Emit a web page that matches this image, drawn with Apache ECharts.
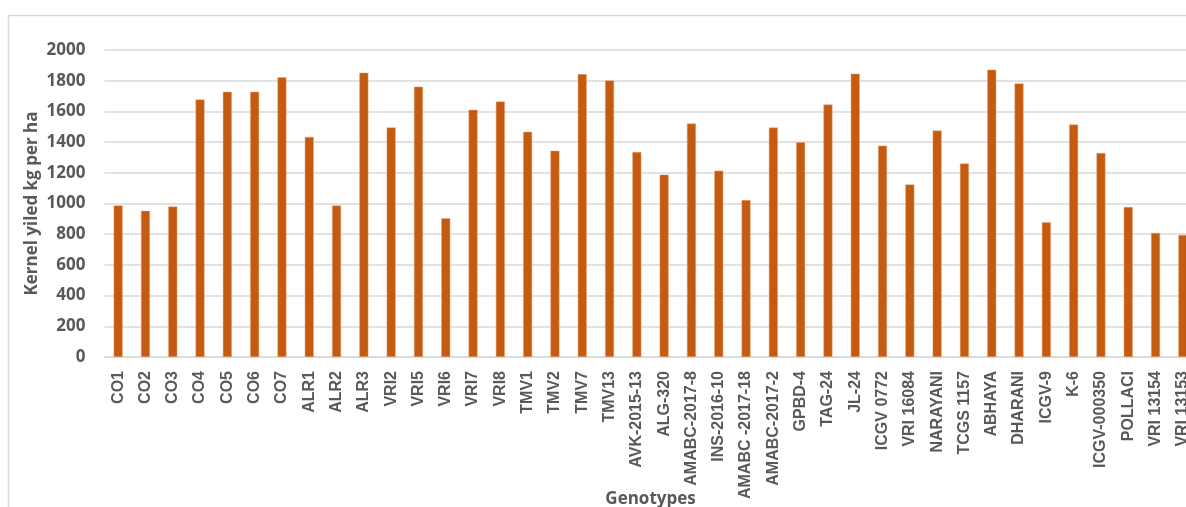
<!DOCTYPE html>
<html>
<head>
<meta charset="utf-8">
<script src="https://cdn.jsdelivr.net/npm/echarts@6/dist/echarts.min.js"></script>
<style>
html,body{margin:0;padding:0;background:#fff;}
#chart{width:1186px;height:507px;}
</style>
</head>
<body>
<div id="chart"></div>
<script>
const categories = ["CO1","CO2","CO3","CO4","CO5","CO6","CO7","ALR1","ALR2","ALR3","VRI2","VRI5","VRI6","VRI7","VRI8","TMV1","TMV2","TMV7","TMV13","AVK-2015-13","ALG-320","AMABC-2017-8","INS-2016-10","AMABC -2017-18","AMABC-2017-2","GPBD-4","TAG-24","JL-24","ICGV 0772","VRI 16084","NARAYANI","TCGS 1157","ABHAYA","DHARANI","ICGV-9","K-6","ICGV-000350","POLLACI","VRI 13154","VRI 13153"];
const yieldValues = [987,952,980,1678,1728,1728,1822,1434,987,1852,1495,1761,904,1610,1665,1467,1344,1843,1802,1336,1188,1521,1214,1022,1495,1399,1645,1846,1377,1124,1475,1261,1872,1782,878,1514,1329,978,808,795];
const yTicks = [0,200,400,600,800,1000,1200,1400,1600,1800,2000];

const grey = '#595959';
const chart = echarts.init(document.getElementById('chart'), null, {renderer:'canvas'});
chart.setOption({
  backgroundColor:'#fff',
  animation:false,
  graphic:[{
    type:'rect', z:-1,
    shape:{x:8.5,y:15.5,width:1400,height:700},
    style:{fill:'none',stroke:'#d9d9d9',lineWidth:1.5}
  }],
  grid:{left:104.5,top:50,width:1092,height:307,containLabel:false,outerBoundsMode:'none'},
  xAxis:{
    type:'category',
    data:categories,
    name:'Genotypes',
    nameLocation:'middle',
    nameGap:134,
    nameMoveOverlap:false,
    nameTextStyle:{color:grey,fontSize:17,fontWeight:'bold',fontFamily:'Open Sans'},
    axisLine:{show:true,lineStyle:{color:'#d9d9d9',width:1.5}},
    axisTick:{show:false},
    axisLabel:{
      interval:0,rotate:90,color:grey,fontSize:16,fontWeight:'bold',
      fontFamily:'Liberation Sans',margin:14
    }
  },
  yAxis:{
    type:'value',
    min:yTicks[0],max:yTicks[yTicks.length-1],interval:200,
    name:'Kernel yiled kg per ha',
    nameLocation:'middle',
    nameGap:64,
    nameMoveOverlap:false,
    nameTextStyle:{color:grey,fontSize:17,fontWeight:'bold',fontFamily:'Open Sans'},
    axisLine:{show:false},
    axisTick:{show:false},
    axisLabel:{color:grey,fontSize:17,fontWeight:'bold',fontFamily:'Open Sans',margin:19,
      formatter:function(v){return String(v);}},
    splitLine:{lineStyle:{color:'#d9d9d9',width:1.5}}
  },
  series:[{
    type:'bar',
    data:yieldValues,
    barWidth:9,
    itemStyle:{color:'#C55A11',borderColor:'#E9A877',borderWidth:0.5}
  }]
});
</script>
</body>
</html>
